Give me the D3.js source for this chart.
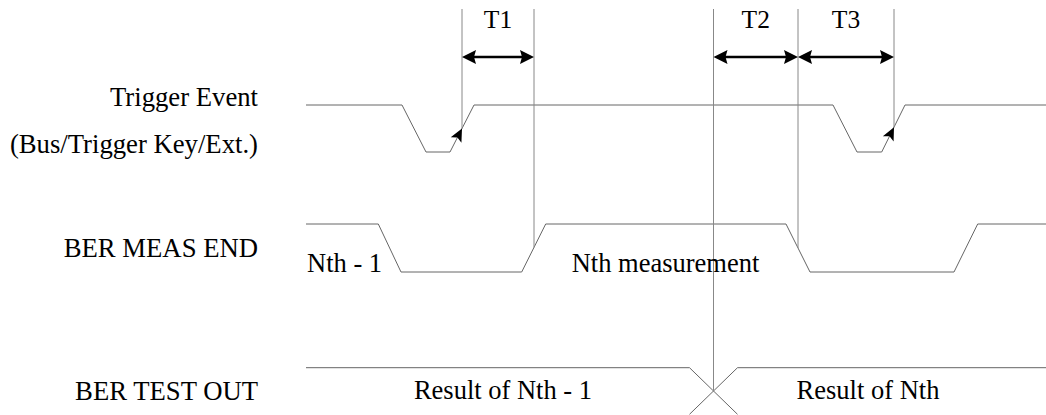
<!DOCTYPE html>
<html>
<head>
<meta charset="utf-8">
<script src="https://cdn.jsdelivr.net/npm/d3@7"></script>
<style>
  html, body { margin: 0; padding: 0; background: #fff; }
  svg { display: block; }
</style>
</head>
<body>
<svg id="chart" width="1046" height="415"></svg>
<script>
// ---- data (time units) ----
const signalNames = ["Trigger Event", "BER MEAS END", "BER TEST OUT"];
const signalSubLabels = ["(Bus/Trigger Key/Ext.)", "", ""];
// [time, level] where 1 = high, 0 = low
const triggerWave = [[0,1],[96,1],[120,0],[144,0],[168,1],[527,1],[551,0],[575.7,0],[599,1],[740,1]];
const measEndWave = [[0,1],[72.3,1],[95,0],[215.7,0],[239.7,1],[480,1],[504,0],[648,0],[671.7,1],[740,1]];
const testOutWaveA = [[0,1],[383.5,1],[431.5,0]];
const testOutWaveB = [[383.5,0],[431.5,1],[740,1]];
const measTexts = [["Nth - 1", 1], ["Nth measurement", 265.7]];
const resultTexts = [["Result of Nth - 1", 197], ["Result of Nth", 562]];
// marker lines: time and the signal row they end on
const markers = [[156,0],[228,1],[407.5,2],[492,1],[588,0]];
const intervals = [["T1",156,228],["T2",407.5,492],["T3",492,588]];
const triggerArrows = [156, 588];

// ---- scales ----
const x = d3.scaleLinear().domain([0, 740]).range([306, 1046]);
const rowY = [
  d3.scaleLinear().domain([0,1]).range([152, 105]),
  d3.scaleLinear().domain([0,1]).range([272, 224]),
  d3.scaleLinear().domain([0,1]).range([414.3, 367.7])
];

const FONT = "'Liberation Serif', 'Times New Roman', Times, serif";
const svg = d3.select("#chart").attr("font-family", FONT).style("font-family", FONT);
const lineGen = (ys) => d3.line().x(d => x(d[0])).y(d => ys(d[1]));
const sigColor = "#666";

function levelAt(wave, t) {
  for (let i = 0; i < wave.length - 1; i++) {
    const [t0, l0] = wave[i], [t1, l1] = wave[i+1];
    if (t >= t0 && t <= t1) return t1 === t0 ? l0 : l0 + (l1 - l0) * (t - t0) / (t1 - t0);
  }
  return wave[wave.length-1][1];
}

// waves
[[triggerWave,0],[measEndWave,1],[testOutWaveA,2],[testOutWaveB,2]].forEach(([w, r]) => {
  svg.append("path").attr("d", lineGen(rowY[r])(w))
    .attr("fill","none").attr("stroke", sigColor).attr("stroke-width", 1);
});

// marker verticals
const waves = [triggerWave, measEndWave, testOutWaveA];
markers.forEach(([t, r]) => {
  const yEnd = rowY[r](levelAt(waves[r], t));
  svg.append("line").attr("x1", x(t)).attr("x2", x(t)).attr("y1", 9).attr("y2", yEnd)
    .attr("stroke", "#888").attr("stroke-width", 1);
});

// arrowhead helper
function arrowHead(tipX, tipY, dx, dy, len, half, notch) {
  const n = Math.hypot(dx, dy); dx /= n; dy /= n;
  const bx = tipX - dx*len, by = tipY - dy*len;
  const px = -dy, py = dx;
  const cx = tipX - dx*(len - notch), cy = tipY - dy*(len - notch);
  return `M${tipX},${tipY}L${bx+px*half},${by+py*half}L${cx},${cy}L${bx-px*half},${by-py*half}Z`;
}

// interval arrows
const arrowY = 57;
intervals.forEach(([lab, t0, t1]) => {
  const x0 = x(t0), x1 = x(t1);
  svg.append("line").attr("x1", x0 + 8).attr("x2", x1 - 8).attr("y1", arrowY).attr("y2", arrowY)
    .attr("stroke", "#000").attr("stroke-width", 2.5);
  svg.append("path").attr("d", arrowHead(x0, arrowY, -1, 0, 14, 7, 2)).attr("fill", "#000");
  svg.append("path").attr("d", arrowHead(x1, arrowY, 1, 0, 14, 7, 2)).attr("fill", "#000");
  svg.append("text").attr("x", (x0 + x1) / 2).attr("y", 28).attr("text-anchor", "middle")
    .attr("font-size", 25.5).attr("fill", "#000").text(lab);
});

// trigger arrows on rising edges
triggerArrows.forEach(t => {
  const tipX = x(t), tipY = rowY[0](levelAt(triggerWave, t));
  let seg = null;
  for (let i = 0; i < triggerWave.length - 1; i++) {
    if (t >= triggerWave[i][0] && t <= triggerWave[i+1][0]) { seg = [triggerWave[i], triggerWave[i+1]]; break; }
  }
  const dx = x(seg[1][0]) - x(seg[0][0]), dy = rowY[0](seg[1][1]) - rowY[0](seg[0][1]);
  svg.append("path").attr("d", arrowHead(tipX, tipY, dx, dy, 13, 6, 3)).attr("fill", "#000");
});

// left labels
const labelX = 258;
const addText = (s, xx, yy, anchor, size) => svg.append("text")
  .attr("x", xx).attr("y", yy).attr("text-anchor", anchor).attr("font-size", size)
  .attr("fill", "#000").text(s);
addText(signalNames[0], labelX, 106, "end", 26.7);
addText(signalSubLabels[0], labelX, 153, "end", 26.7);
addText(signalNames[1], labelX, 257, "end", 26.7);
addText(signalNames[2], labelX, 400, "end", 26.7);

// in-diagram texts
measTexts.forEach(([s, t]) => addText(s, x(t), 272, "start", 26.5));
resultTexts.forEach(([s, t]) => addText(s, x(t), 399, "middle", 26.5));
</script>
</body>
</html>
